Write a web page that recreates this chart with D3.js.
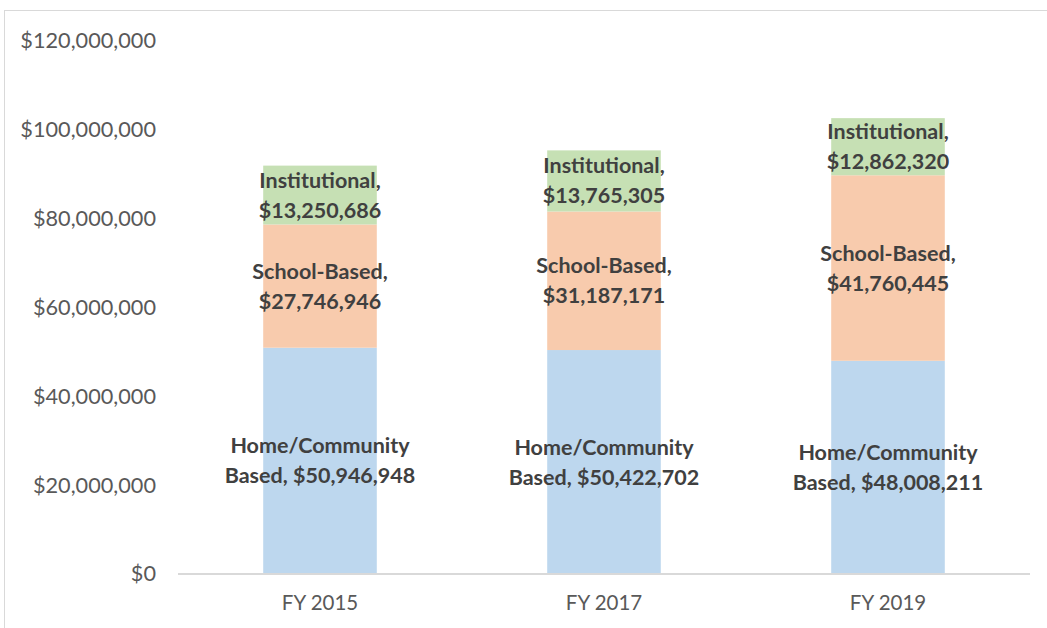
<!DOCTYPE html>
<html>
<head>
<meta charset="utf-8">
<script src="https://cdn.jsdelivr.net/npm/d3@7"></script>
<style>
  html, body { margin: 0; padding: 0; background: #fff; }
  svg { display: block; }
</style>
</head>
<body>
<svg id="chart" width="1047" height="628"></svg>
<script>
const categories = ["FY 2015", "FY 2017", "FY 2019"];
const seriesNames = ["Home/Community Based", "School-Based", "Institutional"];
const homeCommunity = [50946948, 50422702, 48008211];
const schoolBased = [27746946, 31187171, 41760445];
const institutional = [13250686, 13765305, 12862320];
const yTicks = [0, 20000000, 40000000, 60000000, 80000000, 100000000, 120000000];
const colors = ["#BDD7EE", "#F8CBAD", "#C6E0B4"];

const seriesValues = [homeCommunity, schoolBased, institutional];
const rows = categories.map((c, i) => {
  const r = { category: c };
  seriesNames.forEach((s, j) => { r[s] = seriesValues[j][i]; });
  return r;
});

const svg = d3.select("#chart");
const W = 1047, H = 628;

// chart border
svg.append("rect")
  .attr("x", 4.5).attr("y", 10.5)
  .attr("width", W + 10).attr("height", H + 10)
  .attr("fill", "none").attr("stroke", "#d9d9d9").attr("stroke-width", 1);

const x = d3.scaleBand().domain(categories).range([178, 1030])
  .paddingInner(0.6).paddingOuter(0.3);
const y = d3.scaleLinear().domain([0, 120000000]).range([574, 41]);

const stack = d3.stack().keys(seriesNames);
const stacked = stack(rows);

const fmt = d3.format("$,.0f");
const font = "Lato, 'Open Sans', sans-serif";

const groups = svg.append("g").selectAll("g").data(stacked).join("g")
  .attr("fill", (d, i) => colors[i]);
groups.selectAll("rect").data(d => d).join("rect")
  .attr("x", d => x(d.data.category))
  .attr("width", x.bandwidth())
  .attr("y", d => y(d[1]))
  .attr("height", d => y(d[0]) - y(d[1]));

// y axis (labels only)
const yAxis = d3.axisLeft(y).tickValues(yTicks).tickFormat(fmt).tickSize(0).tickPadding(22);
const yg = svg.append("g").attr("transform", "translate(178,0)").call(yAxis);
yg.select(".domain").remove();
yg.selectAll("text").attr("fill", "#595959").style("font-family", font).style("font-size", "21.7px");

// x axis
const xAxis = d3.axisBottom(x).tickSize(0).tickPadding(21);
const xg = svg.append("g").attr("transform", "translate(0,574)").call(xAxis);
xg.select(".domain").attr("stroke", "#d9d9d9").attr("stroke-width", 2).attr("d", "M178,0H1030");
xg.selectAll("text").attr("fill", "#595959").style("font-family", font).style("font-size", "20.5px");

// data labels
function labelLines(series, v) {
  if (series === "Home/Community Based") return ["Home/Community", "Based, " + fmt(v)];
  return [series + ",", fmt(v)];
}
const lh = 30;
stacked.forEach(s => {
  s.forEach(d => {
    const cx = x(d.data.category) + x.bandwidth() / 2;
    const cy = (y(d[0]) + y(d[1])) / 2;
    const lines = labelLines(s.key, d.data[s.key]);
    const t = svg.append("text")
      .attr("text-anchor", "middle")
      .attr("fill", "#404040")
      .style("font-family", font)
      .style("font-weight", "bold")
      .style("font-size", "21.5px");
    lines.forEach((ln, k) => {
      t.append("tspan")
        .attr("x", cx)
        .attr("y", cy + (k - (lines.length - 1) / 2) * lh)
        .attr("dy", "0.35em")
        .text(ln);
    });
  });
});
</script>
</body>
</html>
